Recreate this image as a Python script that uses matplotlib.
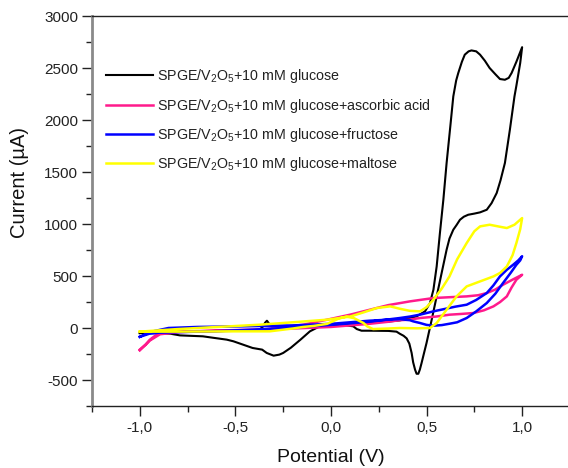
import matplotlib
matplotlib.use("Agg")
import matplotlib.pyplot as plt
from matplotlib.ticker import MultipleLocator, FixedLocator, FixedFormatter

plt.rcParams["font.family"] = ["Liberation Sans", "DejaVu Sans"]
plt.rcParams["mathtext.fontset"] = "custom"
plt.rcParams["mathtext.rm"] = "Liberation Sans"
plt.rcParams["mathtext.it"] = "Liberation Sans:italic"
plt.rcParams["axes.unicode_minus"] = False

# Cyclic voltammograms: potential (V) and current (µA), forward sweep then reverse sweep
glucose_E = [-1.0, -0.95, -0.9, -0.8, -0.7, -0.6, -0.5, -0.42, -0.37, -0.355, -0.345, -0.335, -0.325, -0.31,
             -0.2, -0.1, 0.0, 0.1, 0.2, 0.3, 0.36, 0.396, 0.448, 0.492, 0.518, 0.536, 0.553, 0.57, 0.588,
             0.605, 0.625, 0.64, 0.655, 0.666, 0.685, 0.70, 0.72, 0.735, 0.76, 0.78, 0.805, 0.83, 0.86,
             0.884, 0.91, 0.93, 0.945, 0.97, 1.0,
             0.99, 0.97, 0.96, 0.936, 0.91, 0.887, 0.867, 0.84, 0.815, 0.78, 0.75, 0.718, 0.695, 0.675,
             0.657, 0.64, 0.62, 0.605, 0.579, 0.553, 0.527, 0.50, 0.487, 0.474, 0.465, 0.457, 0.448, 0.44,
             0.43, 0.422, 0.41, 0.396, 0.38, 0.36, 0.343, 0.30, 0.2, 0.16, 0.135, 0.117, 0.08, 0.0, -0.06,
             -0.11, -0.16, -0.21, -0.25, -0.27, -0.30, -0.336, -0.36, -0.41, -0.46, -0.51, -0.545, -0.62,
             -0.67, -0.79, -0.84, -0.9, -1.0]
glucose_I = [-50, -42, -38, -35, -33, -31, -28, -25, -10, 15, 50, 70, 45, 15,
             12, 20, 30, 45, 55, 62, 73, 89, 112, 160, 240, 368, 592, 913, 1234,
             1587, 1950, 2227, 2380, 2452, 2560, 2628, 2660, 2669, 2660, 2628, 2570, 2500, 2440,
             2394, 2387, 2405, 2452, 2560, 2700,
             2548, 2330, 2227, 1907, 1587, 1420, 1298, 1200, 1137, 1112, 1100, 1089, 1070, 1041,
             990, 945, 860, 753, 529, 304, 80, -144, -240, -337, -400, -440, -440, -401,
             -330, -240, -150, -100, -75, -55, -35, -28, -26, -26, -10, 16, 25, 20, 15,
             -32, -113, -190, -240, -256, -266, -240, -208, -192, -160, -128, -112, -93,
             -80, -71, -55, -50, -48]

ascorbic_E = [-1.0, -0.97, -0.947, -0.92, -0.894, -0.84, -0.7, -0.5, -0.37, -0.145, -0.02, 0.1, 0.204,
              0.3, 0.413, 0.536, 0.62, 0.71, 0.77, 0.815, 0.86, 0.90, 0.95, 1.0,
              0.97, 0.945, 0.92, 0.885, 0.85, 0.8, 0.745, 0.68, 0.62, 0.55, 0.466, 0.41, 0.36, 0.3,
              0.2, 0.1, 0.0, -0.2, -0.4, -0.6, -0.8, -0.894, -0.947, -1.0]
ascorbic_I = [-208, -160, -112, -75, -48, -38, -30, -25, -20, 32, 80, 128, 176,
              220, 256, 288, 296, 304, 315, 336, 370, 416, 465, 512,
              464, 390, 304, 250, 208, 170, 144, 135, 128, 110, 96, 80, 75, 60,
              40, 25, 10, -5, -15, -25, -40, -60, -120, -215]

fructose_E = [-1.0, -0.95, -0.9, -0.8, -0.6, -0.4, -0.2, 0.0, 0.2, 0.36, 0.413, 0.47, 0.536, 0.6, 0.65,
              0.71, 0.76, 0.815, 0.85, 0.884, 0.92, 0.953, 0.98, 1.0,
              0.99, 0.97, 0.94, 0.90, 0.86, 0.815, 0.76, 0.71, 0.66, 0.62, 0.58, 0.536, 0.50, 0.466,
              0.43, 0.413, 0.36, 0.3, 0.2, 0.1, 0.0, -0.2, -0.5, -0.7, -0.85, -0.95, -1.0]
fructose_I = [-85, -55, -45, -40, -30, -15, 5, 30, 60, 96, 110, 130, 160, 185, 205,
              224, 270, 336, 410, 496, 560, 608, 650, 690,
              650, 608, 530, 432, 330, 240, 160, 96, 55, 41, 28, 22, 30, 48,
              64, 75, 85, 80, 70, 55, 40, 25, 15, 10, 0, -40, -85]

maltose_E = [-1.0, -0.8, -0.53, -0.37, -0.2, -0.02, 0.1, 0.17, 0.24, 0.31, 0.36, 0.413, 0.466, 0.50,
             0.536, 0.58, 0.62, 0.66, 0.71, 0.75, 0.78, 0.83, 0.88, 0.92, 0.96, 0.98, 1.0,
             0.99, 0.97, 0.95, 0.92, 0.885, 0.85, 0.78, 0.71, 0.657, 0.605, 0.553, 0.518, 0.45, 0.36,
             0.3, 0.22, 0.19, 0.17, 0.12, 0.08, 0.04, -0.02, -0.09, -0.145, -0.2, -0.32, -0.53,
             -0.8, -1.0]
maltose_I = [-35, -10, 16, 32, 55, 80, 110, 150, 192, 208, 185, 165, 160, 200,
             272, 380, 496, 660, 817, 930, 977, 993, 975, 961, 993, 1025, 1057,
             950, 817, 700, 592, 530, 496, 448, 400, 304, 176, 48, 0, -3, 0,
             -5, -10, 15, 48, 95, 110, 90, 40, 20, 10, -5, -32, -32,
             -35, -35]

series_labels = [
    r"SPGE/V$_2$O$_5$+10 mM glucose",
    r"SPGE/V$_2$O$_5$+10 mM glucose+ascorbic acid",
    r"SPGE/V$_2$O$_5$+10 mM glucose+fructose",
    r"SPGE/V$_2$O$_5$+10 mM glucose+maltose",
]
series_colors = ["#000000", "#ff1a8c", "#0000ff", "#ffff00"]

x_ticks = [-1.0, -0.5, 0.0, 0.5, 1.0]
x_tick_labels = ["-1,0", "-0,5", "0,0", "0,5", "1,0"]
y_ticks = [-500, 0, 500, 1000, 1500, 2000, 2500, 3000]

fig = plt.figure(figsize=(5.68, 4.68), dpi=100)
ax = fig.add_axes([92 / 568, 62 / 468, 476 / 568, 390 / 468])

curves = [(glucose_E, glucose_I), (ascorbic_E, ascorbic_I), (fructose_E, fructose_I), (maltose_E, maltose_I)]
widths = [1.5, 1.8, 1.8, 1.8]
for (E, I), lab, col, lw in zip(curves, series_labels, series_colors, widths):
    ax.plot(E, I, color=col, lw=lw, label=lab, solid_joinstyle="round")

ax.set_xlim(-1.25, 1.24)
ax.set_ylim(-750, 3000)

ax.xaxis.set_major_locator(FixedLocator(x_ticks))
ax.xaxis.set_major_formatter(FixedFormatter(x_tick_labels))
ax.xaxis.set_minor_locator(MultipleLocator(0.25))
ax.yaxis.set_major_locator(FixedLocator(y_ticks))
ax.yaxis.set_minor_locator(MultipleLocator(250))

ax.tick_params(axis="both", which="major", direction="out", length=7, width=1, labelsize=11, pad=3,
               color="#222222", labelcolor="#222222")
ax.tick_params(axis="both", which="minor", direction="out", length=4, width=1, color="#222222")
ax.tick_params(axis="x", which="major", pad=3.5)

ax.spines["right"].set_visible(False)
ax.spines["left"].set_color("#8a8a8a")
ax.spines["left"].set_linewidth(2)
ax.spines["bottom"].set_color("#222222")
ax.spines["bottom"].set_linewidth(1)
ax.spines["top"].set_color("#222222")
ax.spines["top"].set_linewidth(1)

ax.set_xlabel("Potential (V)", fontsize=14, color="#111111")
ax.set_ylabel("Current (µA)", fontsize=14.5, color="#111111")
ax.xaxis.set_label_coords((331 - 92) / 476, -(457 - 406) / 390)
ax.xaxis.label.set_va("center")
ax.yaxis.set_label_coords(-(92 - 20) / 476, (406 - 183) / 390)
ax.yaxis.label.set_va("center")

ax.legend(loc="upper left", bbox_to_anchor=(0.03, 0.869), frameon=False, fontsize=10.3,
          handlelength=3.3, handletextpad=0.25, labelspacing=0.8, borderpad=0, borderaxespad=0,
          labelcolor="#222222")

fig.savefig("out.png", dpi=100)
